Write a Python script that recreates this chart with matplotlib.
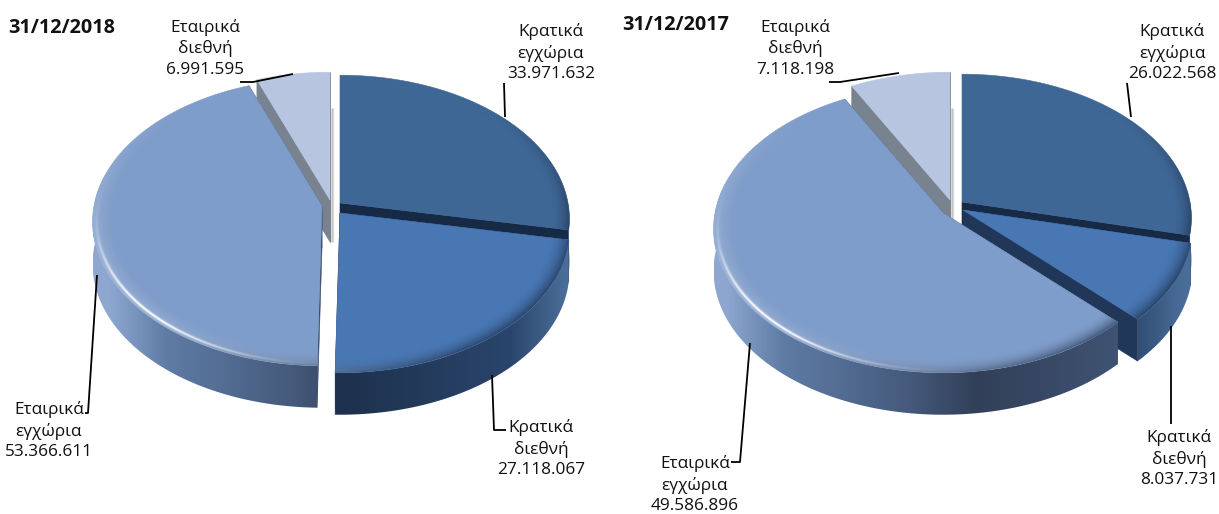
#!/usr/bin/env python3

import numpy as np
import matplotlib
matplotlib.use("Agg")
import matplotlib.colors as mcolors
import matplotlib.pyplot as plt
from matplotlib.patches import PathPatch, Polygon
from matplotlib.path import Path

plt.rcParams["font.family"] = ["Open Sans", "DejaVu Sans"]

NAMES = ["Κρατικά\nεγχώρια", "Κρατικά\nδιεθνή", "Εταιρικά\nεγχώρια", "Εταιρικά\nδιεθνή"]
VALUES_2018 = [33971632, 27118067, 53366611, 6991595]
VALUES_2017 = [26022568, 8037731, 49586896, 7118198]
TITLE_2018 = "31/12/2018"
TITLE_2017 = "31/12/2017"

TOP_COLORS = ["#3f6796", "#4877b3", "#7f9dca", "#b7c5e0"]
CUT_COLORS = ["#172a45", "#20375a", "#3c4d6b", "#79828f"]
# wall shading across the pie, from far left (-1) to far right (+1)
WALL_U = [-1.0, -0.75, -0.2, 0.1, 0.76, 1.0]
WALL_RAMPS = [
    ["#1e3250", "#1e3250", "#1e3250", "#1e3250", "#2c4a70", "#4a6d98"],
    ["#1e3250", "#1e3250", "#1e3250", "#1f3350", "#2a456b", "#4a6d98"],
    ["#8da7d0", "#5f7ca5", "#455a7c", "#323f58", "#3f5474", "#3f5474"],
    ["#79828f"] * 6,
]

RX = 228
RY = 142
PERSP = 0.111
DEPTH = 42
DRAW_ORDER = [3, 0, 1, 2]
LABEL_SIZE = 12.4
LABEL_SPACING = 1.36


def project(theta, r, apex):
    # theta in degrees, clockwise from 12 o'clock
    t = np.radians(theta)
    u = r * np.sin(t)
    v = r * np.cos(t)
    w = 1 + PERSP * v
    return np.column_stack([apex[0] + RX * u / w, apex[1] - RY * v / w])


def clipped_image(ax, img, extent, verts, zorder):
    im = ax.imshow(img, extent=extent, aspect="auto", zorder=zorder, interpolation="bilinear")
    clip = PathPatch(Path(np.vstack([verts, verts[:1]]), closed=True),
                     transform=ax.transData, facecolor="none", edgecolor="none")
    ax.add_patch(clip)
    im.set_clip_path(clip)


def wall_gradient(ax, verts, ramp, centre_x, zorder):
    x0, x1 = verts[:, 0].min(), verts[:, 0].max()
    y0, y1 = verts[:, 1].min(), verts[:, 1].max()
    xs = np.linspace(x0, x1, 256)
    rgb = np.array([mcolors.to_rgb(c) for c in ramp])
    u = (xs - centre_x) / RX
    img = np.stack([np.interp(u, WALL_U, rgb[:, i]) for i in range(3)], axis=-1)[None, :, :]
    clipped_image(ax, img, (x0, x1, y1, y0), verts, zorder)


def draw_rim(ax, verts, apex, zorder):
    # bevel on the outer edge of the top surface, worked out per pixel
    x0, x1 = verts[:, 0].min(), verts[:, 0].max()
    y0, y1 = verts[:, 1].min(), verts[:, 1].max()
    xs = np.linspace(x0, x1, max(int(x1 - x0) * 2, 2))
    ys = np.linspace(y0, y1, max(int(y1 - y0) * 2, 2))
    gx, gy = np.meshgrid(xs, ys)
    # undo the perspective
    v = -(gy - apex[1]) / (RY + PERSP * (gy - apex[1]))
    u = (gx - apex[0]) / RX * (1 + PERSP * v)
    r = np.hypot(u, v)
    theta = np.degrees(np.arctan2(u, v)) % 360
    t = np.clip((r - 0.91) / 0.09, 0, 1)
    dark = 0.62 * t ** 2.2 * np.clip(np.cos(np.radians(theta - 130)), 0, None) ** 1.2
    light = 0.22 * t ** 1.5 * np.clip(np.cos(np.radians(theta - 235)), 0, None) ** 1.5
    glint = 0.9 * np.exp(-((r - 0.985) / 0.006) ** 2) \
        * np.clip(np.cos(np.radians(theta - 225)), 0, None) ** 8
    white = np.clip(light + glint, 0, 1)
    alpha = np.clip(dark + white, 0, 1)
    dark_rgb = np.array(mcolors.to_rgb("#16263f"))
    share = (white / np.maximum(alpha, 1e-6))[..., None]
    img = np.dstack([share + (1 - share) * dark_rgb, alpha])
    clipped_image(ax, np.clip(img, 0, 1), (x0, x1, y1, y0), verts, zorder)


def draw_slice(ax, i, start, end, apex, pie_x, zorder):
    apex = np.array(apex, dtype=float)
    down = np.array([0, DEPTH])
    # cut faces first, the top surface hides the ones facing away
    for a in (start, end):
        edge = project(np.array([a]), 1.0, apex)[0]
        ax.add_patch(Polygon([apex, edge, edge + down, apex + down],
                             facecolor=CUT_COLORS[i], edgecolor=CUT_COLORS[i],
                             linewidth=0.4, zorder=zorder))
    a0, a1 = max(start, 90), min(end, 282)
    if a1 > a0:
        arc = project(np.linspace(a0, a1, 120), 1.0, apex)
        wall_gradient(ax, np.vstack([arc, (arc + down)[::-1]]), WALL_RAMPS[i],
                      pie_x, zorder + 0.1)
    top = np.vstack([apex, project(np.linspace(start, end, 200), 1.0, apex)])
    ax.add_patch(Polygon(top, facecolor=TOP_COLORS[i], edgecolor=TOP_COLORS[i],
                         linewidth=0.4, zorder=zorder + 0.2))
    if i != 3:
        draw_rim(ax, top, apex, zorder + 0.3)


def draw_pie(ax, values, apexes, pie_x, zorder):
    angles = np.cumsum([0] + list(values)) / sum(values) * 360
    # thin soft shadow beside the first slice
    sx, sy = apexes[3]
    for off, alpha in ((0.5, 0.25), (1.5, 0.45), (2.5, 0.25)):
        ax.plot([sx + off] * 2, [sy - 92, sy + DEPTH], color="#8a8a8a", alpha=alpha,
                lw=1, zorder=zorder - 1, solid_capstyle="butt")
    for n, i in enumerate(DRAW_ORDER):
        draw_slice(ax, i, angles[i], angles[i + 1], apexes[i], pie_x, zorder + n)


def fmt(value):
    return f"{value:,}".replace(",", ".")


def put_labels(ax, values, label_pos, leaders):
    for name, value, (x, y) in zip(NAMES, values, label_pos):
        ax.text(x, y, f"{name}\n{fmt(value)}", ha="center", va="center",
                fontsize=LABEL_SIZE, linespacing=LABEL_SPACING, color="#111111", zorder=50)
    for pts in leaders:
        xs, ys = zip(*pts)
        ax.plot(xs, ys, color="black", lw=1.3, zorder=49, solid_capstyle="butt")


fig = plt.figure(figsize=(12.19, 5.14), dpi=100)
ax = fig.add_axes([0, 0, 1, 1])
ax.set_axis_off()

# apex of each slice, in the order of NAMES
draw_pie(ax, VALUES_2018, [(340, 203), (340, 213), (322, 206), (330, 200)], 337, 10)
draw_pie(ax, VALUES_2017, [(962, 202), (963, 210), (943, 213), (950, 200)], 953, 20)

put_labels(ax, VALUES_2018,
           [(551, 53), (541, 449), (49, 431), (205, 48)],
           [[(504, 83), (505, 117)],
            [(492, 375), (494, 430), (506, 430)],
            [(97, 275), (88, 413), (85, 413)],
            [(240, 82), (253, 82), (293, 74)]])
put_labels(ax, VALUES_2017,
           [(1172, 53), (1179, 459), (695, 485), (795, 48)],
           [[(1127, 83), (1131, 117)],
            [(1171, 326), (1171, 424)],
            [(750, 343), (740, 462), (731, 462)],
            [(829, 82), (840, 82), (899, 73)]])

ax.text(8, 28, TITLE_2018, fontsize=14.2, fontweight="bold", va="center", color="#111111")
ax.text(622, 25, TITLE_2017, fontsize=14.2, fontweight="bold", va="center", color="#111111")

ax.set_xlim(0, 1219)
ax.set_ylim(514, 0)
fig.savefig("out.png", dpi=100)
